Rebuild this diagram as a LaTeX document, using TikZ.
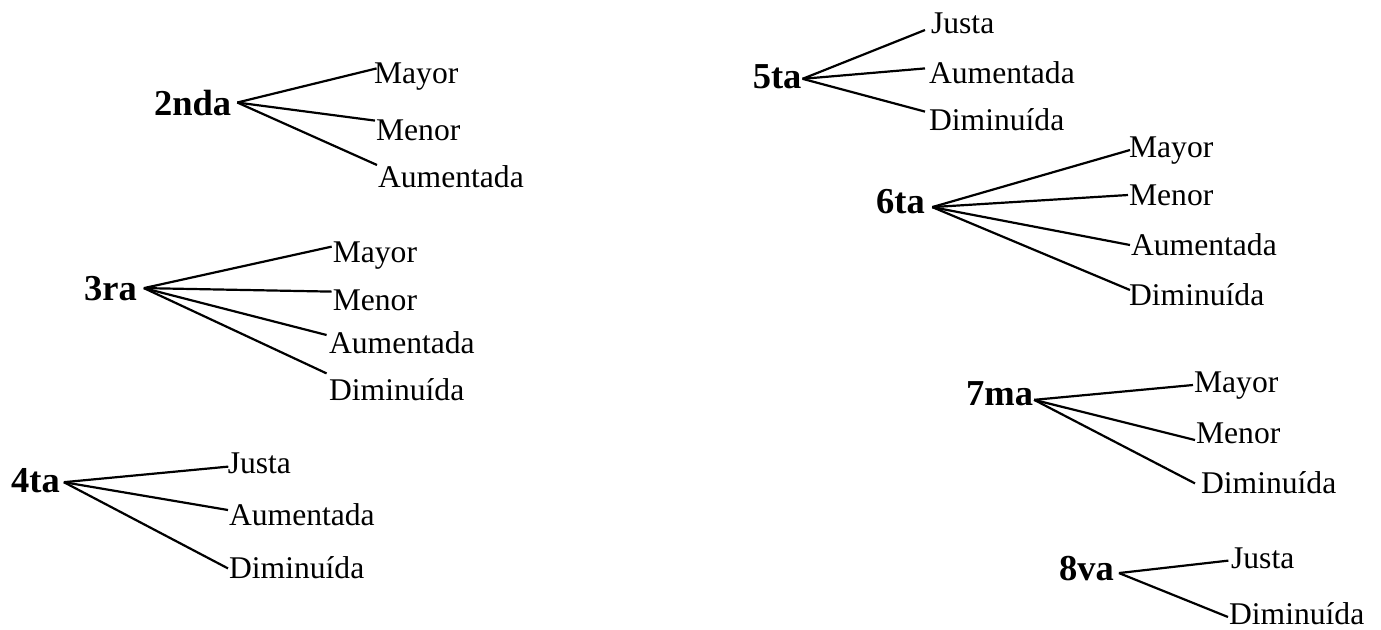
\documentclass[tikz,border=0pt]{standalone}
\usepackage{fontspec}
\setmainfont{Liberation Serif}
\usetikzlibrary{positioning}

\tikzset{interval/.style={inner sep=0pt, anchor=base west, font=\fontsize{18.25}{20}\selectfont\bfseries},
         kind/.style={inner sep=0pt, anchor=base west, font=\fontsize{15.8}{18}\selectfont}}

\begin{document}
\begin{tikzpicture}[x=0.5pt, y=-0.5pt, line width=1.1pt]
\useasboundingbox (0,0) rectangle (1381,629);

% 2nda
\node[interval] (n2) at (153,115) {2nda};
\node[kind] (n2may) at (373,83) {Mayor};
\node[kind] (n2men) at (375,140) {Menor};
\node[kind] (n2aum) at (377,187) {Aumentada};
\coordinate (o2) at ([xshift=2.5pt]n2.east);
\draw (o2) -- ([shift={(1.8pt,7.3pt)}]n2may.base west);
\draw (o2) -- ([yshift=9.7pt]n2men.base west);
\draw (o2) -- ([yshift=11pt]n2aum.base west);

% 3ra
\node[interval] (n3) at (83,300) {3ra};
\node[kind] (n3may) at (331.7,262) {Mayor};
\node[kind] (n3men) at (331.7,310) {Menor};
\node[kind] (n3aum) at (328,353) {Aumentada};
\node[kind] (n3dim) at (328,400) {Diminuída};
\coordinate (o3) at ([xshift=3pt]n3.east);
\draw (o3) -- ([yshift=7.7pt]n3may.base west);
\draw (o3) -- ([yshift=9.2pt]n3men.base west);
\draw (o3) -- ([shift={(-0.7pt,9pt)}]n3aum.base west);
\draw (o3) -- ([shift={(-0.7pt,13.3pt)}]n3dim.base west);

% 4ta
\node[interval] (n4) at (10,492) {4ta};
\node[kind] (n4jus) at (226.7,473) {Justa};
\node[kind] (n4aum) at (228,525) {Aumentada};
\node[kind] (n4dim) at (228,578) {Diminuída};
\coordinate (o4) at ([shift={(1.5pt,-1pt)}]n4.east);
\draw (o4) -- ([shift={(0.8pt,3.2pt)}]n4jus.base west);
\draw (o4) -- ([yshift=7.5pt]n4aum.base west);
\draw (o4) -- ([yshift=4.8pt]n4dim.base west);

% 5ta
\node[interval] (n5) at (751.7,88) {5ta};
\node[kind] (n5jus) at (930,33) {Justa};
\node[kind] (n5aum) at (928,83) {Aumentada};
\node[kind] (n5dim) at (928,130) {Diminuída};
\coordinate (o5) at ([yshift=-1.3pt]n5.east);
\draw (o5) -- ([shift={(-2.5pt,1.5pt)}]n5jus.base west);
\draw (o5) -- ([shift={(-1.5pt,7.3pt)}]n5aum.base west);
\draw (o5) -- ([shift={(-1.5pt,9.2pt)}]n5dim.base west);

% 6ta
\node[interval] (n6) at (875,213) {6ta};
\node[kind] (n6may) at (1128,157) {Mayor};
\node[kind] (n6men) at (1128,205) {Menor};
\node[kind] (n6aum) at (1130,255) {Aumentada};
\node[kind] (n6dim) at (1128,305) {Diminuída};
\coordinate (o6) at ([shift={(3.2pt,-3pt)}]n6.east);
\draw (o6) -- ([shift={(1pt,3.5pt)}]n6may.base west);
\draw (o6) -- ([yshift=5pt]n6men.base west);
\draw (o6) -- ([yshift=5pt]n6aum.base west);
\draw (o6) -- ([shift={(1pt,7.5pt)}]n6dim.base west);

% 7ma
\node[interval] (n7) at (965,405) {7ma};
\node[kind] (n7may) at (1193,392) {Mayor};
\node[kind] (n7men) at (1195,443) {Menor};
\node[kind] (n7dim) at (1200,493) {Diminuída};
\coordinate (o7) at ([yshift=-3.3pt]n7.east);
\draw (o7) -- ([yshift=3.5pt]n7may.base west);
\draw (o7) -- ([yshift=1.5pt]n7men.base west);
\draw (o7) -- ([shift={(-2.5pt,4.8pt)}]n7dim.base west);

% 8va
\node[interval] (n8) at (1058,580) {8va};
\node[kind] (n8jus) at (1230,568) {Justa};
\node[kind] (n8dim) at (1228,624) {Diminuída};
\coordinate (o8) at ([shift={(2pt,-2.5pt)}]n8.east);
\draw (o8) -- ([shift={(-0.8pt,3.7pt)}]n8jus.base west);
\draw (o8) -- ([yshift=3.5pt]n8dim.base west);

\end{tikzpicture}
\end{document}
